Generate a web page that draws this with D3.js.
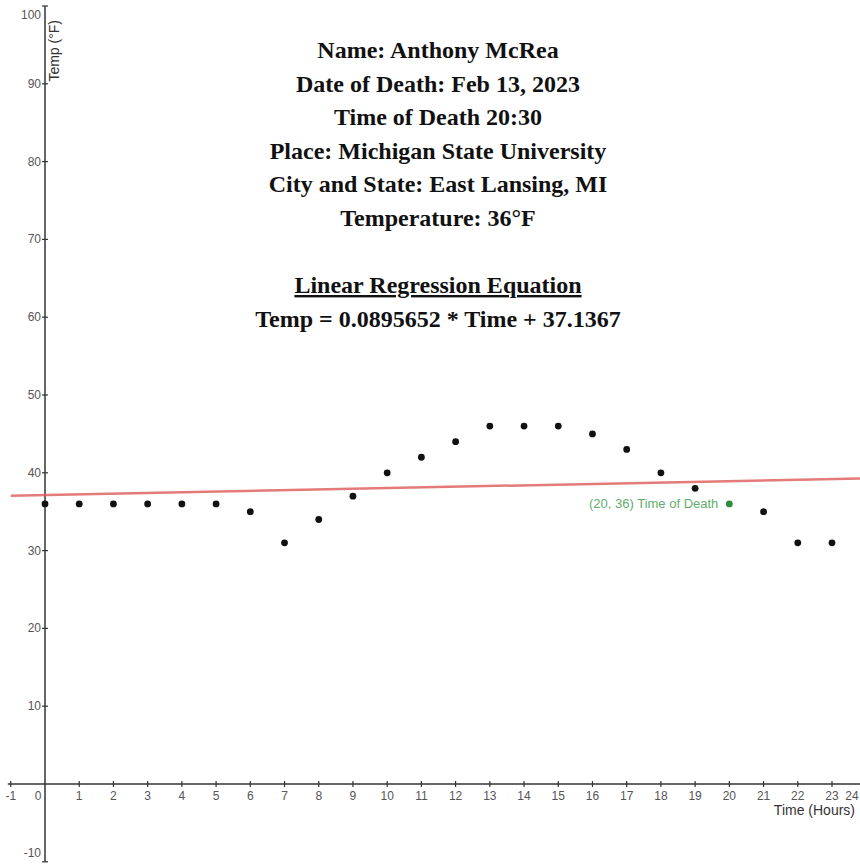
<!DOCTYPE html>
<html><head><meta charset="utf-8">
<script src="https://cdn.jsdelivr.net/npm/d3@7"></script>
<style>body{margin:0;background:#fff}svg{display:block}</style>
</head><body>
<script>
const hours = [0,1,2,3,4,5,6,7,8,9,10,11,12,13,14,15,16,17,18,19,21,22,23];
const temps = [36,36,36,36,36,36,35,31,34,37,40,42,44,46,46,46,45,43,40,38,35,31,31];
const deathPoint = {x:20, y:36, label:"(20, 36) Time of Death"};
const slope = 0.0895652, intercept = 37.1367;
const xTicks = [-1,0,1,2,3,4,5,6,7,8,9,10,11,12,13,14,15,16,17,18,19,20,21,22,23,24];
const yTicks = [-10,10,20,30,40,50,60,70,80,90,100];
const titleLines = ["Name: Anthony McRea","Date of Death: Feb 13, 2023","Time of Death 20:30",
  "Place: Michigan State University","City and State: East Lansing, MI","Temperature: 36°F"];
const eqTitle = "Linear Regression Equation";
const eqText = "Temp = 0.0895652 * Time + 37.1367";

const W=860,H=865;
const svg=d3.select("body").append("svg").attr("width",W).attr("height",H);
const x=d3.scaleLinear().domain([0,23]).range([45,832]);
const y=d3.scaleLinear().domain([0,100]).range([784,6]);
const sans="Liberation Sans, Arial, sans-serif";
const axisColor="#333";
// axes
svg.append("line").attr("x1",x(-1)-3).attr("x2",W).attr("y1",y(0)).attr("y2",y(0)).attr("stroke",axisColor).attr("stroke-width",1.5);
svg.append("line").attr("x1",x(0)).attr("x2",x(0)).attr("y1",y(100)).attr("y2",y(-10)).attr("stroke",axisColor).attr("stroke-width",1.5);

svg.selectAll(".xt").data(xTicks.filter(d=>d!==0)).enter().append("line")
 .attr("x1",d=>x(d)).attr("x2",d=>x(d)).attr("y1",y(0)-3).attr("y2",y(0)+3).attr("stroke",axisColor).attr("stroke-width",1.2);
svg.selectAll(".xl").data(xTicks).enter().append("text")
 .attr("x",d=> d===0 ? x(0)-7 : (d===24 ? W-8 : x(d)))
 .attr("y",y(0)+16).attr("text-anchor","middle")
 .attr("font-family",sans).attr("font-size",12).attr("fill","#555")
 .text(d=>d);
svg.selectAll(".yt").data(yTicks).enter().append("line")
 .attr("x1",x(0)-3).attr("x2",x(0)+3).attr("y1",d=>y(d)).attr("y2",d=>y(d)).attr("stroke",axisColor).attr("stroke-width",1.2);
svg.selectAll(".yl").data(yTicks).enter().append("text")
 .attr("x",x(0)-4).attr("y",d=> d===100 ? y(d)+13 : (d===-10 ? y(d)-5 : y(d)+4)).attr("text-anchor","end")
 .attr("font-family",sans).attr("font-size",12).attr("fill","#555")
 .text(d=>d);

// axis labels
svg.append("text").attr("transform",`translate(${x(0)+14},${y(100)+14}) rotate(-90)`).attr("text-anchor","end")
 .attr("font-family",sans).attr("font-size",14).attr("fill","#333").text("Temp (°F)");
svg.append("text").attr("x",W-5).attr("y",y(0)+31).attr("text-anchor","end")
 .attr("font-family",sans).attr("font-size",14).attr("fill","#333").text("Time (Hours)");

// regression line
svg.append("line").attr("x1",x(-1)).attr("x2",x(24)).attr("y1",y(slope*-1+intercept)).attr("y2",y(slope*24+intercept))
 .attr("stroke","#dc5a56").attr("stroke-opacity",0.8).attr("stroke-width",2.5);

// points
svg.selectAll(".pt").data(hours.map((h,i)=>({h,t:temps[i]}))).enter().append("circle")
 .attr("cx",d=>x(d.h)).attr("cy",d=>y(d.t)).attr("r",3.4).attr("fill","#111");
svg.append("circle").attr("cx",x(deathPoint.x)).attr("cy",y(deathPoint.y)).attr("r",3.4).attr("fill","#2e8b3e");
svg.append("text").attr("x",x(deathPoint.x)-11).attr("y",y(deathPoint.y)+4.5).attr("text-anchor","end")
 .attr("font-family",sans).attr("font-size",13).attr("fill","#5fae6c").text(deathPoint.label);

// title block
const tf="Liberation Serif, Times New Roman, serif";
const cx=438;
svg.selectAll(".tl").data(titleLines).enter().append("text")
 .attr("x",cx).attr("y",(d,i)=>58+i*33.6).attr("text-anchor","middle")
 .attr("font-family",tf).attr("font-weight","bold").attr("font-size",24).attr("fill","#111").text(d=>d);
svg.append("text").attr("x",cx).attr("y",293).attr("text-anchor","middle")
 .attr("font-family",tf).attr("font-weight","bold").attr("font-size",24).attr("fill","#111")
 .attr("text-decoration","underline").text(eqTitle);
svg.append("text").attr("x",cx).attr("y",327).attr("text-anchor","middle")
 .attr("font-family",tf).attr("font-weight","bold").attr("font-size",24).attr("fill","#111").text(eqText);
</script>
</body></html>
